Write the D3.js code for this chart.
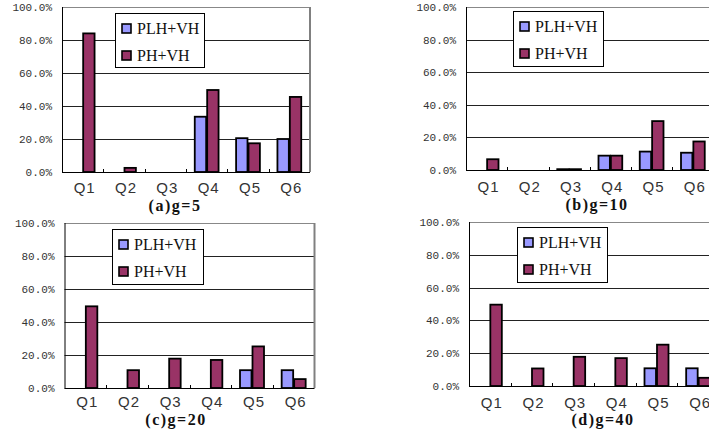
<!DOCTYPE html>
<html><head><meta charset="utf-8">
<script src="https://cdn.jsdelivr.net/npm/d3@7"></script>
<style>body{margin:0;background:#fff}svg{display:block}</style>
</head><body><svg id="c" width="709" height="436"></svg>
<script>
const categories = ["Q1","Q2","Q3","Q4","Q5","Q6"];
const seriesNames = ["PLH+VH","PH+VH"];
const yTicks = [0,0.2,0.4,0.6,0.8,1.0];
const titles = ["(a)g=5","(b)g=10","(c)g=20","(d)g=40"];
// values per panel: [PLH+VH, PH+VH]
const plhA = [0, 0, 0, 0.335, 0.205, 0.20];
const phA  = [0.84, 0.025, 0, 0.497, 0.174, 0.455];
const plhB = [0, 0, 0.005, 0.088, 0.113, 0.106];
const phB  = [0.066, 0, 0.005, 0.088, 0.30, 0.175];
const plhC = [0, 0, 0, 0, 0.108, 0.108];
const phC  = [0.495, 0.108, 0.178, 0.170, 0.252, 0.054];
const plhD = [0, 0, 0, 0, 0.108, 0.108];
const phD  = [0.496, 0.107, 0.178, 0.170, 0.252, 0.050];
const panelData = [[plhA,phA],[plhB,phB],[plhC,phC],[plhD,phD]];

const colors = ["#9999FF","#993366"];
const layout = [
  {l:62, r:310, t:7, b:172, qy:193, ty:211, tx:175, lg:{x:115,y:13,w:89,h:54}},
  {l:466, r:713.5, t:7, b:170, qy:192, ty:210, tx:597, lg:{x:513,y:11,w:90,h:55}},
  {l:64.5, r:314.5, t:223, b:388, qy:407, ty:425, tx:176, lg:{x:112,y:229,w:91,h:55}},
  {l:469, r:719, t:222, b:386, qy:408, ty:425, tx:603, lg:{x:517,y:227,w:90,h:55}}
];

const svg = d3.select("#c");
const fmt = d => d3.format(".1f")(d*100) + "%";

layout.forEach((L, pi) => {
  const g = svg.append("g");
  const y = d3.scaleLinear().domain([0,1]).range([L.b, L.t]);
  const x = d3.scaleBand().domain(categories).range([L.l, L.r]).paddingInner(0.4).paddingOuter(0.2);
  const xo = d3.scaleBand().domain(seriesNames).range([0, x.bandwidth()]);
  const xb = d3.scaleBand().domain(categories).range([L.l, L.r]);

  // gridlines
  g.selectAll(".grid").data(yTicks.filter(v => v>0 && v<1)).join("line")
    .attr("x1", L.l).attr("x2", L.r).attr("y1", d=>Math.round(y(d))+0.5).attr("y2", d=>Math.round(y(d))+0.5)
    .attr("stroke","#222").attr("stroke-width",1);
  // top and right border
  g.append("line").attr("x1",L.l).attr("x2",L.r).attr("y1",Math.round(L.t)+0.5).attr("y2",Math.round(L.t)+0.5)
    .attr("stroke","#888").attr("stroke-width",1);
  g.append("line").attr("x1",L.r).attr("x2",L.r).attr("y1",L.t).attr("y2",L.b)
    .attr("stroke","#808080").attr("stroke-width",2);

  // y labels
  g.selectAll(".yl").data(yTicks).join("text")
    .attr("x", L.l - 10).attr("y", d => y(d) + 4)
    .attr("text-anchor","end").attr("font-family","Liberation Mono, monospace")
    .attr("font-size","11px").attr("fill","#333").text(fmt);

  // bars
  const vals = panelData[pi];
  seriesNames.forEach((s, si) => {
    g.selectAll(".bar"+si).data(categories).join("rect")
      .attr("x", c => x(c) + xo(s) + 0.5)
      .attr("y", (c,i) => y(vals[si][i]))
      .attr("width", xo.bandwidth() - 1)
      .attr("height", (c,i) => Math.max(0, L.b - y(vals[si][i])))
      .attr("fill", colors[si]).attr("stroke","#000").attr("stroke-width",1.8)
      .attr("display", (c,i) => vals[si][i] > 0 ? null : "none");
  });

  // axes lines
  g.append("line").attr("x1",L.l+0.5).attr("x2",L.l+0.5).attr("y1",L.t).attr("y2",L.b+0.5)
    .attr("stroke","#000").attr("stroke-width",1);
  g.append("line").attr("x1",L.l).attr("x2",L.r).attr("y1",Math.round(L.b)+0.5).attr("y2",Math.round(L.b)+0.5)
    .attr("stroke","#000").attr("stroke-width",1);
  // x ticks at boundaries (inside)
  g.selectAll(".xt").data(categories.slice(1)).join("line")
    .attr("x1", c => Math.round(xb(c))+0.5).attr("x2", c => Math.round(xb(c))+0.5)
    .attr("y1", L.b).attr("y2", L.b - 3).attr("stroke","#000").attr("stroke-width",1);

  // x labels
  g.selectAll(".xl").data(categories).join("text")
    .attr("x", c => xb(c) + xb.bandwidth()/2 + 2).attr("y", L.qy)
    .attr("text-anchor","middle").attr("font-family","Liberation Sans, sans-serif")
    .attr("font-size","15px").attr("letter-spacing","1px").attr("fill","#333").text(c => c);

  // title
  g.append("text").attr("x", L.tx).attr("y", L.ty).attr("text-anchor","middle")
    .attr("font-family","Liberation Serif, serif").attr("font-weight","bold")
    .attr("font-size","16px").attr("letter-spacing","1.5px").attr("fill","#111").text(titles[pi]);

  // legend
  const lg = L.lg;
  g.append("rect").attr("x",lg.x+0.5).attr("y",lg.y+0.5).attr("width",lg.w).attr("height",lg.h)
    .attr("fill","#fff").attr("stroke","#000").attr("stroke-width",1);
  seriesNames.forEach((s, si) => {
    const yy = lg.y + 11 + si*27;
    g.append("rect").attr("x", lg.x + 7).attr("y", yy).attr("width",9).attr("height",9)
      .attr("fill", colors[si]).attr("stroke","#000").attr("stroke-width",1.6);
    g.append("text").attr("x", lg.x + 22).attr("y", yy + 10)
      .attr("font-family","Liberation Serif, serif").attr("font-size","16px").attr("fill","#111").text(s);
  });
});
</script></body></html>
